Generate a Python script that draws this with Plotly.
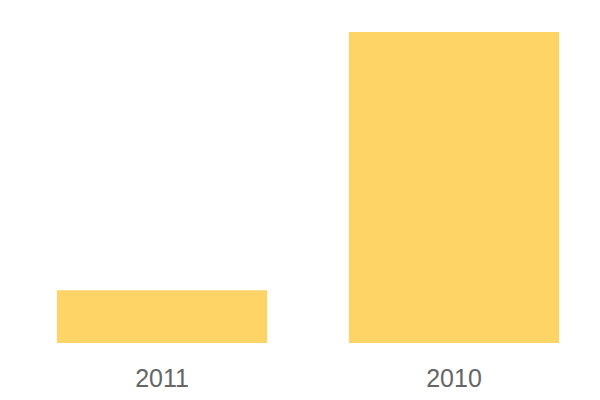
import plotly.graph_objects as go

categories = ["2011", "2010"]
values = [17, 100]

fig = go.Figure(go.Bar(
    x=categories, y=values,
    marker=dict(color="#FFD466", line=dict(width=0)),
    hoverinfo="x+y",
))
fig.update_layout(
    width=600, height=400,
    margin=dict(l=8, r=8, t=24, b=65, autoexpand=False),
    paper_bgcolor="white", plot_bgcolor="white",
    bargap=0.28,
    showlegend=False,
    font=dict(family="Liberation Sans, Arial, sans-serif", color="#666666"),
)
fig.update_xaxes(showgrid=False, showline=False, zeroline=False,
                 tickfont=dict(size=25, color="#666666"), ticks="",
                 ticklabelstandoff=18)
fig.update_yaxes(visible=False, range=[0, 100], showgrid=False, zeroline=False)
fig.write_html("out.html")
